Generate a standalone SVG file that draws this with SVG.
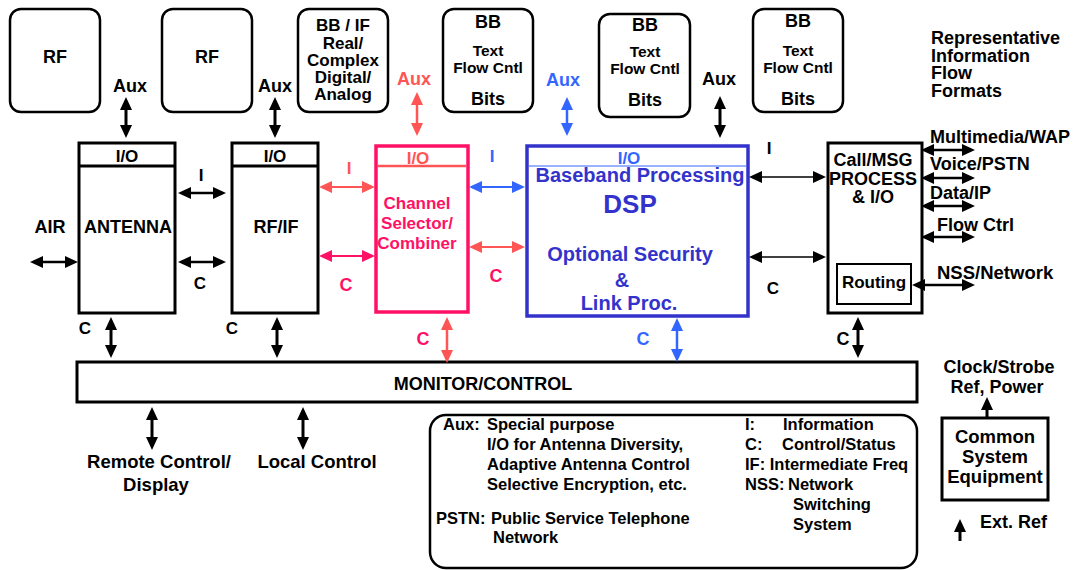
<svg xmlns="http://www.w3.org/2000/svg" width="1074" height="570" viewBox="0 0 1074 570">
<style>
text{font-family:"Liberation Sans",Arial,Helvetica,sans-serif;font-weight:bold;fill:#000}
.m{text-anchor:middle}
.f18{font-size:18px}.f17{font-size:17px}.f16{font-size:16px}.f15{font-size:15.5px}.f20{font-size:20px}.fl{font-size:16.5px}.f185{font-size:18.5px}
.box{fill:#fff;stroke:#000;stroke-width:3}
.rbox{fill:#fff;stroke:#000;stroke-width:2.5}
.k{stroke:#000;fill:none}
.s{stroke:#ff5555;fill:none}
.p{stroke:#ff1166;fill:none}
.b{stroke:#3366ff;fill:none}
.ck{marker-start:url(#hk);marker-end:url(#hk)}
.cs{marker-start:url(#hs);marker-end:url(#hs)}
.cp{marker-start:url(#hp);marker-end:url(#hp)}
.cb{marker-start:url(#hb);marker-end:url(#hb)}
.tp{fill:#ff1166}.ts{fill:#ff5555}.tb{fill:#3366ff}.td{fill:#3333cc}
</style>
<defs>
<marker id="hk" markerUnits="userSpaceOnUse" viewBox="0 0 13 12" markerWidth="13" markerHeight="12" refX="1" refY="6" orient="auto-start-reverse"><path d="M0,0 L13,6 L0,12 z" fill="#000"/></marker>
<marker id="hs" markerUnits="userSpaceOnUse" viewBox="0 0 13 12" markerWidth="13" markerHeight="12" refX="1" refY="6" orient="auto-start-reverse"><path d="M0,0 L13,6 L0,12 z" fill="#ff5555"/></marker>
<marker id="hp" markerUnits="userSpaceOnUse" viewBox="0 0 13 12" markerWidth="13" markerHeight="12" refX="1" refY="6" orient="auto-start-reverse"><path d="M0,0 L13,6 L0,12 z" fill="#ff1166"/></marker>
<marker id="hb" markerUnits="userSpaceOnUse" viewBox="0 0 13 12" markerWidth="13" markerHeight="12" refX="1" refY="6" orient="auto-start-reverse"><path d="M0,0 L13,6 L0,12 z" fill="#3366ff"/></marker>
</defs>

<!-- top format boxes -->
<g id="rf1"><rect class="rbox" x="10" y="9" width="90" height="103" rx="11"/><text class="m f18" x="55" y="63">RF</text></g>
<g id="rf2"><rect class="rbox" x="162" y="9" width="90" height="103" rx="11"/><text class="m f18" x="207" y="63">RF</text></g>
<g id="bbif"><rect class="rbox" x="298" y="9" width="90" height="103" rx="11"/>
<text class="m f17" x="343" y="31">BB / IF</text><text class="m f17" x="343" y="48.5">Real/</text><text class="m f17" x="343" y="66">Complex</text><text class="m f17" x="343" y="83">Digital/</text><text class="m f17" x="343" y="100">Analog</text></g>
<g id="bb1"><rect class="rbox" x="443" y="9" width="90" height="103" rx="11"/>
<text class="m f18" x="488" y="28">BB</text><text class="m f15" x="488" y="56">Text</text><text class="m f15" x="488" y="73">Flow Cntl</text><text class="m f18" x="488" y="105">Bits</text></g>
<g id="bb2"><rect class="rbox" x="599" y="14" width="91" height="103" rx="11"/>
<text class="m f18" x="645" y="31">BB</text><text class="m f15" x="645" y="57">Text</text><text class="m f15" x="645" y="74">Flow Cntl</text><text class="m f18" x="645" y="106">Bits</text></g>
<g id="bb3"><rect class="rbox" x="753" y="9" width="90" height="103" rx="11"/>
<text class="m f18" x="798" y="27">BB</text><text class="m f15" x="798" y="56">Text</text><text class="m f15" x="798" y="73">Flow Cntl</text><text class="m f18" x="798" y="105">Bits</text></g>

<g id="title"><text class="f18" x="931" y="44">Representative</text><text class="f18" x="931" y="61.5">Information</text><text class="f18" x="931" y="79">Flow</text><text class="f18" x="931" y="96.5">Formats</text></g>

<!-- main blocks -->
<g id="antenna"><rect class="box" x="79" y="143" width="96" height="170"/><line class="k" x1="79" y1="166" x2="175" y2="166" stroke-width="3"/>
<text class="m f17" x="127" y="162">I/O</text><text class="m f18" x="128" y="233">ANTENNA</text></g>
<g id="rfif"><rect class="box" x="232" y="143" width="86" height="170"/><line class="k" x1="232" y1="166" x2="318" y2="166" stroke-width="3"/>
<text class="m f17" x="275" y="162">I/O</text><text class="m f18" x="276" y="233">RF/IF</text></g>
<g id="channel"><rect x="376" y="146" width="92" height="166" fill="#fff" stroke="#ff1166" stroke-width="3.5"/>
<text class="m f17 ts" x="418" y="164">I/O</text><line x1="378" y1="166" x2="466" y2="166" stroke="#ff5555" stroke-width="2.5"/>
<text class="m f17 tp" x="417" y="209">Channel</text><text class="m f17 tp" x="417" y="229">Selector/</text><text class="m f17 tp" x="417" y="249">Combiner</text></g>
<g id="dsp"><rect x="527" y="146" width="221" height="170" fill="#fff" stroke="#3333cc" stroke-width="3.5"/>
<line x1="529" y1="166" x2="746" y2="166" stroke="#3366ff" stroke-width="1.2"/>
<text class="m f17 tb" x="629" y="163.5">I/O</text>
<text class="m f20 td" x="640" y="182">Baseband Processing</text>
<text class="m td" x="630" y="213" style="font-size:26px">DSP</text>
<text class="m f20 td" x="630" y="261">Optional Security</text>
<text class="m f20 td" x="622" y="287">&amp;</text>
<text class="m f20 td" x="629" y="310">Link Proc.</text></g>
<g id="callmsg"><rect class="box" x="828" y="143" width="94" height="170"/>
<text class="m f18" x="873" y="166">Call/MSG</text><text class="m f18" x="873" y="185">PROCESS</text><text class="m f18" x="873" y="203">&amp; I/O</text>
<rect x="837" y="264" width="74" height="40" fill="#fff" stroke="#000" stroke-width="2"/><text class="m f17" x="874" y="288">Routing</text></g>
<g id="monitor"><rect class="box" x="77" y="362" width="840" height="40"/><text class="m f18" x="483" y="390">MONITOR/CONTROL</text></g>
<g id="common"><rect class="box" x="942" y="418" width="106" height="82"/>
<text class="m f185" x="995" y="443">Common</text><text class="m f185" x="995" y="463">System</text><text class="m f185" x="995" y="483">Equipment</text></g>

<!-- legend -->
<g id="legend"><rect x="430" y="415" width="487" height="153" rx="16" fill="#fff" stroke="#000" stroke-width="2.5"/>
<text class="fl" x="443" y="430">Aux:</text><text class="fl" x="487" y="430">Special purpose</text>
<text class="fl" x="487" y="450">I/O for Antenna Diversity,</text>
<text class="fl" x="487" y="470">Adaptive Antenna Control</text>
<text class="fl" x="487" y="490">Selective Encryption, etc.</text>
<text class="fl" x="436" y="524">PSTN:</text><text class="fl" x="491" y="524">Public Service Telephone</text>
<text class="fl" x="493" y="543">Network</text>
<text class="fl" x="745" y="430">I:</text><text class="fl" x="783" y="430">Information</text>
<text class="fl" x="745" y="450">C:</text><text class="fl" x="782" y="450">Control/Status</text>
<text class="fl" x="745" y="470">IF: Intermediate Freq</text>
<text class="fl" x="745" y="490">NSS:</text><text class="fl" x="788" y="490">Network</text>
<text class="fl" x="793" y="510">Switching</text>
<text class="fl" x="793" y="530">System</text></g>

<!-- connector labels -->
<g id="labels">
<text class="m f18" x="130" y="92">Aux</text>
<text class="m f18" x="275" y="92">Aux</text>
<text class="m f18 ts" x="414" y="85">Aux</text>
<text class="m f18 tb" x="563" y="86">Aux</text>
<text class="m f18" x="719" y="85">Aux</text>
<text class="m f18" x="50" y="233">AIR</text>
<text class="m f17" x="201" y="181">I</text>
<text class="m f17" x="200" y="289">C</text>
<text class="m f17 ts" x="349" y="174">I</text>
<text class="m f18 tp" x="346" y="291">C</text>
<text class="m f17 tb" x="492" y="162">I</text>
<text class="m f18 tp" x="496" y="282">C</text>
<text class="m f17" x="769" y="154">I</text>
<text class="m f17" x="773" y="294">C</text>
<text class="f18" x="930" y="143">Multimedia/WAP</text>
<text class="f18" x="930" y="170">Voice/PSTN</text>
<text class="f18" x="930" y="199">Data/IP</text>
<text class="f18" x="937" y="231">Flow Ctrl</text>
<text class="f185" x="937" y="279">NSS/Network</text>
<text class="m f17" x="85" y="334">C</text>
<text class="m f17" x="232" y="334">C</text>
<text class="m f18 tp" x="423" y="345">C</text>
<text class="m f18 tb" x="643" y="345">C</text>
<text class="m f18" x="843" y="345">C</text>
<text class="m f185" x="159" y="468">Remote Control/</text>
<text class="m f185" x="156" y="491">Display</text>
<text class="m f185" x="317" y="468">Local Control</text>
<text class="m f18" x="999" y="373">Clock/Strobe</text>
<text class="m f18" x="997" y="393">Ref, Power</text>
<text class="f18" x="980" y="528">Ext. Ref</text>
</g>

<!-- connectors -->
<g id="connectors">
<line class="k ck" x1="126" y1="109" x2="126" y2="126" stroke-width="3"/>
<line class="k ck" x1="275" y1="109" x2="275" y2="126" stroke-width="3"/>
<line class="s cs" x1="417" y1="104" x2="417" y2="124" stroke-width="2.5"/>
<line class="b cb" x1="567" y1="109" x2="567" y2="124" stroke-width="2.5"/>
<line class="k ck" x1="720" y1="108" x2="720" y2="126" stroke-width="3"/>
<line class="k ck" x1="42" y1="262" x2="66" y2="262" stroke-width="2.5"/>
<line class="k ck" x1="190" y1="193" x2="214" y2="193" stroke-width="2.5"/>
<line class="k ck" x1="190" y1="262" x2="214" y2="262" stroke-width="2.5"/>
<line class="s cs" x1="331" y1="187" x2="363" y2="187" stroke-width="2"/>
<line class="p cp" x1="331" y1="256" x2="363" y2="256" stroke-width="2"/>
<line class="b cb" x1="481" y1="187" x2="513" y2="187" stroke-width="2"/>
<line class="s cs" x1="481" y1="247" x2="513" y2="247" stroke-width="2"/>
<line class="k ck" x1="761" y1="177" x2="814" y2="177" stroke-width="1.5"/>
<line class="k ck" x1="761" y1="257" x2="814" y2="257" stroke-width="1.5"/>
<line class="k ck" x1="933" y1="150" x2="963" y2="150" stroke-width="2.5"/>
<line class="k ck" x1="933" y1="178" x2="963" y2="178" stroke-width="2.5"/>
<line class="k ck" x1="933" y1="206" x2="963" y2="206" stroke-width="2.5"/>
<line class="k ck" x1="933" y1="237" x2="963" y2="237" stroke-width="2.5"/>
<line class="k ck" x1="924" y1="285" x2="963" y2="285" stroke-width="2.5"/>
<line class="k ck" x1="111" y1="329" x2="111" y2="346" stroke-width="3"/>
<line class="k ck" x1="277" y1="329" x2="277" y2="346" stroke-width="3"/>
<line class="s cs" x1="447" y1="329" x2="447" y2="351" stroke-width="2.5"/>
<line class="b cb" x1="677" y1="330" x2="677" y2="350" stroke-width="2.5"/>
<line class="k ck" x1="858" y1="329" x2="858" y2="346" stroke-width="3"/>
<line class="k ck" x1="152" y1="419" x2="152" y2="438" stroke-width="3"/>
<line class="k ck" x1="303" y1="419" x2="303" y2="438" stroke-width="3"/>
<line class="k" x1="987" y1="418" x2="987" y2="409" stroke-width="3" marker-end="url(#hk)"/>
<line class="k" x1="960" y1="541" x2="960" y2="531" stroke-width="3" marker-end="url(#hk)"/>
</g>
</svg>
